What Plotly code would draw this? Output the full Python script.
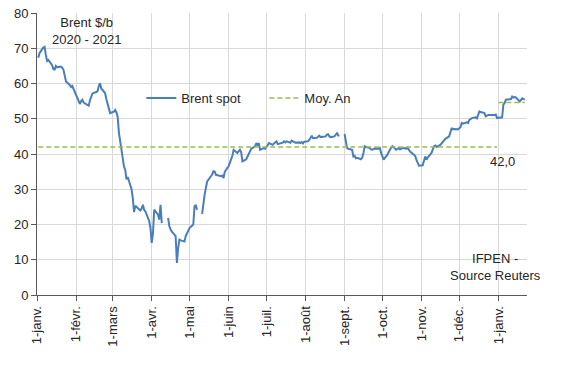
import plotly.graph_objects as go

# Brent spot ($/b), business days; None = no quotation (holiday)
dates = [
    "2020-01-02","2020-01-03","2020-01-06","2020-01-07","2020-01-08","2020-01-09","2020-01-10",
    "2020-01-13","2020-01-14","2020-01-15","2020-01-16","2020-01-17","2020-01-20","2020-01-21",
    "2020-01-22","2020-01-23","2020-01-24","2020-01-27","2020-01-28","2020-01-29","2020-01-30",
    "2020-01-31","2020-02-03","2020-02-04","2020-02-05","2020-02-06","2020-02-07","2020-02-10",
    "2020-02-11","2020-02-12","2020-02-13","2020-02-14","2020-02-17","2020-02-18","2020-02-19",
    "2020-02-20","2020-02-21","2020-02-24","2020-02-25","2020-02-26","2020-02-27","2020-02-28",
    "2020-03-02","2020-03-03","2020-03-04","2020-03-05","2020-03-06","2020-03-09","2020-03-10",
    "2020-03-11","2020-03-12","2020-03-13","2020-03-16","2020-03-17","2020-03-18","2020-03-19",
    "2020-03-20","2020-03-23","2020-03-24","2020-03-25","2020-03-26","2020-03-27","2020-03-30",
    "2020-03-31","2020-04-01","2020-04-02","2020-04-03","2020-04-06","2020-04-07","2020-04-08",
    "2020-04-09","2020-04-10","2020-04-13","2020-04-14","2020-04-15","2020-04-16","2020-04-17",
    "2020-04-20","2020-04-21","2020-04-22","2020-04-23","2020-04-24","2020-04-27","2020-04-28",
    "2020-04-29","2020-04-30","2020-05-01","2020-05-04","2020-05-05","2020-05-06","2020-05-07",
    "2020-05-08","2020-05-11","2020-05-12","2020-05-13","2020-05-14","2020-05-15","2020-05-18",
    "2020-05-19","2020-05-20","2020-05-21","2020-05-22","2020-05-26","2020-05-27","2020-05-28",
    "2020-05-29","2020-06-01","2020-06-02","2020-06-03","2020-06-04","2020-06-05","2020-06-08",
    "2020-06-09","2020-06-10","2020-06-11","2020-06-12","2020-06-15","2020-06-16","2020-06-17",
    "2020-06-18","2020-06-19","2020-06-22","2020-06-23","2020-06-24","2020-06-25","2020-06-26",
    "2020-06-29","2020-06-30","2020-07-01","2020-07-02","2020-07-03","2020-07-06","2020-07-07",
    "2020-07-08","2020-07-09","2020-07-10","2020-07-13","2020-07-14","2020-07-15","2020-07-16",
    "2020-07-17","2020-07-20","2020-07-21","2020-07-22","2020-07-23","2020-07-24","2020-07-27",
    "2020-07-28","2020-07-29","2020-07-30","2020-07-31","2020-08-03","2020-08-04","2020-08-05",
    "2020-08-06","2020-08-07","2020-08-10","2020-08-11","2020-08-12","2020-08-13","2020-08-14",
    "2020-08-17","2020-08-18","2020-08-19","2020-08-20","2020-08-21","2020-08-24","2020-08-25",
    "2020-08-26","2020-08-27","2020-08-28","2020-08-31","2020-09-01","2020-09-02","2020-09-03",
    "2020-09-04","2020-09-07","2020-09-08","2020-09-09","2020-09-10","2020-09-11","2020-09-14",
    "2020-09-15","2020-09-16","2020-09-17","2020-09-18","2020-09-21","2020-09-22","2020-09-23",
    "2020-09-24","2020-09-25","2020-09-28","2020-09-29","2020-09-30","2020-10-01","2020-10-02",
    "2020-10-05","2020-10-06","2020-10-07","2020-10-08","2020-10-09","2020-10-12","2020-10-13",
    "2020-10-14","2020-10-15","2020-10-16","2020-10-19","2020-10-20","2020-10-21","2020-10-22",
    "2020-10-23","2020-10-26","2020-10-27","2020-10-28","2020-10-29","2020-10-30","2020-11-02",
    "2020-11-03","2020-11-04","2020-11-05","2020-11-06","2020-11-09","2020-11-10","2020-11-11",
    "2020-11-12","2020-11-13","2020-11-16","2020-11-17","2020-11-18","2020-11-19","2020-11-20",
    "2020-11-23","2020-11-24","2020-11-25","2020-11-26","2020-11-27","2020-11-30","2020-12-01",
    "2020-12-02","2020-12-03","2020-12-04","2020-12-07","2020-12-08","2020-12-09","2020-12-10",
    "2020-12-11","2020-12-14","2020-12-15","2020-12-16","2020-12-17","2020-12-18","2020-12-21",
    "2020-12-22","2020-12-23","2020-12-24","2020-12-29","2020-12-30","2020-12-31","2021-01-04",
    "2021-01-05","2021-01-06","2021-01-07","2021-01-08","2021-01-11","2021-01-12","2021-01-13",
    "2021-01-14","2021-01-15","2021-01-18","2021-01-19","2021-01-20","2021-01-21","2021-01-22",
]
brent_spot = [
    67.3, 68.6, 70.2, 70.4, 68.2, 66.4, 66.7,
    65.2, 64.1, 64.0, 65.0, 64.6, 64.8, 64.5,
    63.9, 61.8, 60.6, 59.6, 59.0, 59.3, 58.5,
    57.8, 55.0, 54.2, 55.0, 55.4, 54.6, 54.0,
    53.7, 55.2, 56.4, 57.2, 57.6, 57.8, 59.2,
    60.1, 58.6, 57.3, 55.6, 54.0, 52.5, 51.6,
    52.0, 52.5, 51.8, 50.6, 46.0, 38.5, 36.5,
    35.5, 32.8, 33.5, 30.0, 27.5, 23.5, 25.3,
    25.0, 24.0, 24.5, 25.6, 24.2, 23.7, 21.0,
    19.0, 14.8, 17.5, 24.2, 22.8, 21.4, 25.6,
    20.4, None, None, 21.9, 19.5, 18.6, 18.0,
    16.7, 9.1, 13.4, 15.7, 15.5, 15.2, 16.7,
    17.6, 18.1, 19.0, 20.0, 25.2, 25.4, 24.2,
    None, 23.0, 26.5, 28.5, 30.4, 32.2, 33.7,
    34.2, 35.1, 35.0, 34.1, 33.7, 33.9, 33.2,
    35.0, 36.5, 37.5, 38.4, 39.5, 41.2, 40.3,
    40.8, 41.2, 40.5, 37.9, 38.5, 39.3, 40.0,
    40.7, 41.5, 42.2, 43.1, 42.5, 43.1, 41.2,
    41.7, 41.5, 42.2, 42.5, 43.1, 42.6, 43.0,
    43.2, 43.6, 42.8, 43.1, 43.2, 43.6, 43.3,
    43.6, 43.2, 43.8, 43.6, 43.5, 43.2, 43.3,
    43.1, 43.4, 43.0, 43.5, 43.6, 44.0, 44.6,
    45.2, 44.5, 44.6, 44.9, 45.2, 44.8, 44.9,
    45.0, 45.5, 45.6, 45.0, 44.8, 45.0, 45.4,
    45.9, 45.3, 45.2, None, 45.7, 43.1, 41.7,
    41.5, 41.2, 39.3, 39.5, 38.8, 38.9, 38.5,
    39.0, 40.3, 42.2, 42.0, 41.7, 41.3, 41.2,
    41.4, 41.6, 41.5, 41.7, 40.3, 39.5, 38.4,
    39.8, 40.7, 41.2, 41.8, 42.2, 41.2, 41.5,
    41.7, 41.3, 41.6, 41.7, 41.5, 41.8, 41.2,
    40.7, 39.8, 39.5, 38.4, 37.5, 36.7, 36.8,
    38.0, 39.3, 38.4, 39.0, 40.3, 41.5, 42.2,
    42.4, 42.0, 42.6, 43.0, 43.6, 43.8, 44.3,
    45.0, 46.4, 47.4, 47.0, 47.1, 47.0, 47.3,
    47.6, 48.8, 48.6, 49.0, 48.8, 49.7, 50.0,
    50.2, 50.4, 50.1, 51.1, 52.1, 51.9, 51.6,
    50.7, 50.8, 51.1, 51.1, 51.2, 50.2, 50.4,
    54.0, 54.5, 55.4, 55.5, 55.6, 56.3, 56.0,
    56.2, 56.0, 54.9, 55.3, 55.8, 55.6, 55.4,
]

# Annual averages ("Moy. An")
avg_dates = ["2020-01-02", "2020-12-31", "2020-12-31 12:00", "2021-01-01", "2021-01-22"]
avg_values = [42.0, 42.0, None, 54.6, 54.6]
avg_label = "42,0"

y_ticks = [0, 10, 20, 30, 40, 50, 60, 70, 80]
month_ticks = ["2020-01-01","2020-02-01","2020-03-01","2020-04-01","2020-05-01","2020-06-01",
               "2020-07-01","2020-08-01","2020-09-01","2020-10-01","2020-11-01","2020-12-01",
               "2021-01-01"]
month_labels = ["1-janv.","1-févr.","1-mars","1-avr.","1-mai","1-juin","1-juil.","1-août",
                "1-sept.","1-oct.","1-nov.","1-déc.","1-janv."]

FONT = "Liberation Sans"
TXT = "#262626"

fig = go.Figure()
fig.add_trace(go.Scatter(
    x=dates, y=brent_spot, mode="lines", name="Brent spot",
    line=dict(color="#4A7EBB", width=2), connectgaps=False,
))
fig.add_trace(go.Scatter(
    x=avg_dates, y=avg_values, mode="lines", name="Moy. An",
    line=dict(color="#9BBB59", width=1.5, dash="5px,3px"), connectgaps=False,
))

fig.update_layout(
    width=561, height=367,
    margin=dict(l=37, r=34, t=13, b=72),
    paper_bgcolor="white", plot_bgcolor="white",
    font=dict(family=FONT, size=13, color=TXT),
    showlegend=True,
    legend=dict(orientation="h", x=0.213, y=0.698, xanchor="left", yanchor="middle",
                bgcolor="rgba(0,0,0,0)", font=dict(size=13, color=TXT),
                entrywidth=78, entrywidthmode="pixels", tracegroupgap=0),
    xaxis=dict(
        type="date", range=["2020-01-01", "2021-01-23 18:00"], automargin=False,
        tickmode="array", tickvals=month_ticks, ticktext=month_labels,
        tickangle=-90, ticks="outside", ticklen=5, tickcolor="#595959",
        showline=True, linecolor="#595959", linewidth=1,
        showgrid=True, gridcolor="#D9D9D9", gridwidth=1,
        zeroline=False, tickfont=dict(size=13, color=TXT),
    ),
    yaxis=dict(
        range=[0, 80.01], tickmode="array", tickvals=y_ticks, automargin=False,
        ticks="outside", ticklen=5, tickcolor="#595959",
        showline=True, linecolor="#595959", linewidth=1,
        showgrid=True, gridcolor="#D9D9D9", gridwidth=1,
        zeroline=False, tickfont=dict(size=13, color=TXT),
        ticklabeloverflow="allow",
    ),
    annotations=[
        dict(text="Brent $/b<br>2020 - 2021", xref="paper", yref="paper",
             x=0.10, y=1.0, xanchor="center", yanchor="top", showarrow=False,
             font=dict(size=13, color=TXT), align="center"),
        dict(text=avg_label, xref="x", yref="y", x="2021-01-04", y=37.8,
             xanchor="center", yanchor="middle", showarrow=False,
             font=dict(size=13, color=TXT)),
        dict(text="IFPEN -<br>Source Reuters", xref="paper", yref="paper",
             x=0.935, y=0.034, xanchor="center", yanchor="bottom", showarrow=False,
             font=dict(size=13, color=TXT), align="center"),
    ],
)

fig.write_html("out.html", config={"displayModeBar": False},
               post_script="document.body.style.margin='0px';")
